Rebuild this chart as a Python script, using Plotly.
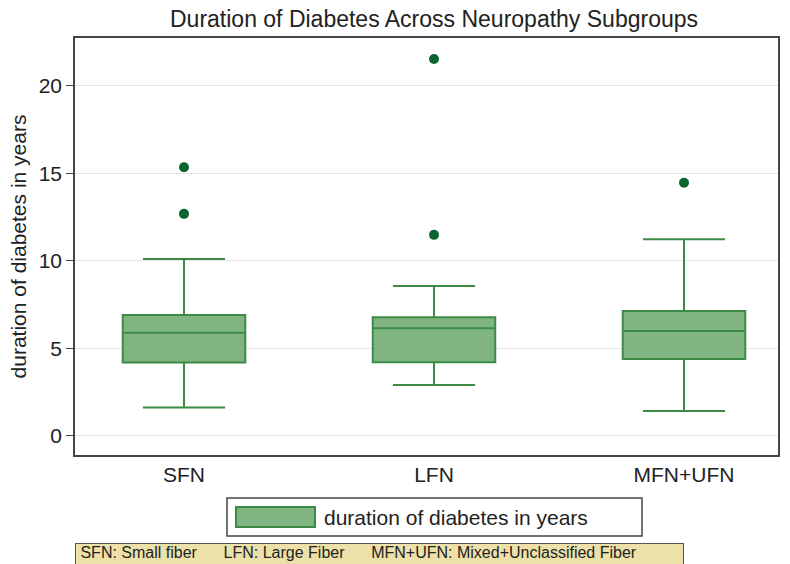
import plotly.graph_objects as go

# Data
categories = ["SFN", "LFN", "MFN+UFN"]
q1_vals = [4.19, 4.21, 4.40]
median_vals = [5.90, 6.15, 6.00]
q3_vals = [6.91, 6.78, 7.14]
lower_fence = [1.62, 2.91, 1.43]
upper_fence = [10.11, 8.57, 11.24]
outlier_cats = ["SFN", "SFN", "LFN", "LFN", "MFN+UFN"]
outlier_vals = [15.35, 12.69, 21.54, 11.49, 14.47]
y_ticks = [0, 5, 10, 15, 20]

series_name = "duration of diabetes in years"
sp = "\u00a0" * 6
footnote = "SFN: Small fiber" + sp + "LFN: Large Fiber" + sp + "MFN+UFN: Mixed+Unclassified Fiber"

FILL = "#80b480"
LINE = "#3d8a45"
DOT = "#0b6330"
FONT = "Liberation Sans, Arial, Helvetica, sans-serif"

fig = go.Figure()
for i, c in enumerate(categories):
    fig.add_trace(go.Box(
        x=[c], q1=[q1_vals[i]], median=[median_vals[i]], q3=[q3_vals[i]],
        lowerfence=[lower_fence[i]], upperfence=[upper_fence[i]],
        name=series_name, legendgroup="d", showlegend=False,
        fillcolor=FILL, line=dict(color=LINE, width=2),
        width=0.49, whiskerwidth=0.67, boxpoints=False, hoverinfo="y",
    ))

fig.add_trace(go.Scatter(
    x=outlier_cats, y=outlier_vals, mode="markers",
    marker=dict(color=DOT, size=10), showlegend=False, hoverinfo="y",
))

# plot area: x 75..778, y 38..455 px
W, H = 790, 564
L, R, T, B = 75, 12, 38, 109
pw, ph = W - L - R, H - T - B

def px_x(p):
    return (p - L) / pw

def px_y(p):
    return (H - B - p) / ph

shapes = [
    # legend frame
    dict(type="rect", xref="paper", yref="paper",
         x0=px_x(227), x1=px_x(642), y0=px_y(536), y1=px_y(498),
         line=dict(color="#444", width=1.5), fillcolor="white"),
    # legend key
    dict(type="rect", xref="paper", yref="paper",
         x0=px_x(236), x1=px_x(315), y0=px_y(527), y1=px_y(507),
         line=dict(color=LINE, width=2), fillcolor=FILL),
]

annotations = [
    dict(text=series_name, xref="paper", yref="paper",
         x=px_x(322), y=px_y(517), xanchor="left", yanchor="middle",
         showarrow=False, font=dict(family=FONT, size=21, color="#222")),
    dict(text=" " + footnote, xref="paper", yref="paper",
         x=px_x(75), y=px_y(543), xanchor="left", yanchor="top",
         showarrow=False, align="left", valign="top", width=607, height=20,
         bgcolor="#ede1a9", bordercolor="#555", borderwidth=1, borderpad=0,
         font=dict(family=FONT, size=16, color="#222")),
]

fig.update_layout(
    width=W, height=H,
    margin=dict(l=L, r=R, t=T, b=B, autoexpand=False),
    paper_bgcolor="white", plot_bgcolor="white",
    font=dict(family=FONT, color="#222"),
    title=dict(text="Duration of Diabetes Across Neuropathy Subgroups",
               xref="container", x=434 / W, xanchor="center",
               yref="container", y=1 - 19 / H, yanchor="middle",
               font=dict(family=FONT, size=23, color="#222")),
    showlegend=False,
    shapes=shapes,
    annotations=annotations,
    xaxis=dict(type="category", range=[-0.436, 2.376],
               showline=True, linecolor="#444", linewidth=1.5, mirror=True,
               showgrid=False, ticks="", tickfont=dict(size=21, family=FONT, color="#222"),
               zeroline=False),
    yaxis=dict(range=[-1.09, 22.74], tickvals=y_ticks,
               showline=True, linecolor="#444", linewidth=1.5, mirror=True,
               showgrid=True, gridcolor="#e6e6e6", gridwidth=1,
               ticks="outside", ticklen=7, tickcolor="#444",
               tickfont=dict(size=21, family=FONT, color="#222"),
               zeroline=False,
               title=dict(text=series_name, standoff=6,
                          font=dict(size=21, family=FONT, color="#222"))),
)

fig.write_html("out.html")
